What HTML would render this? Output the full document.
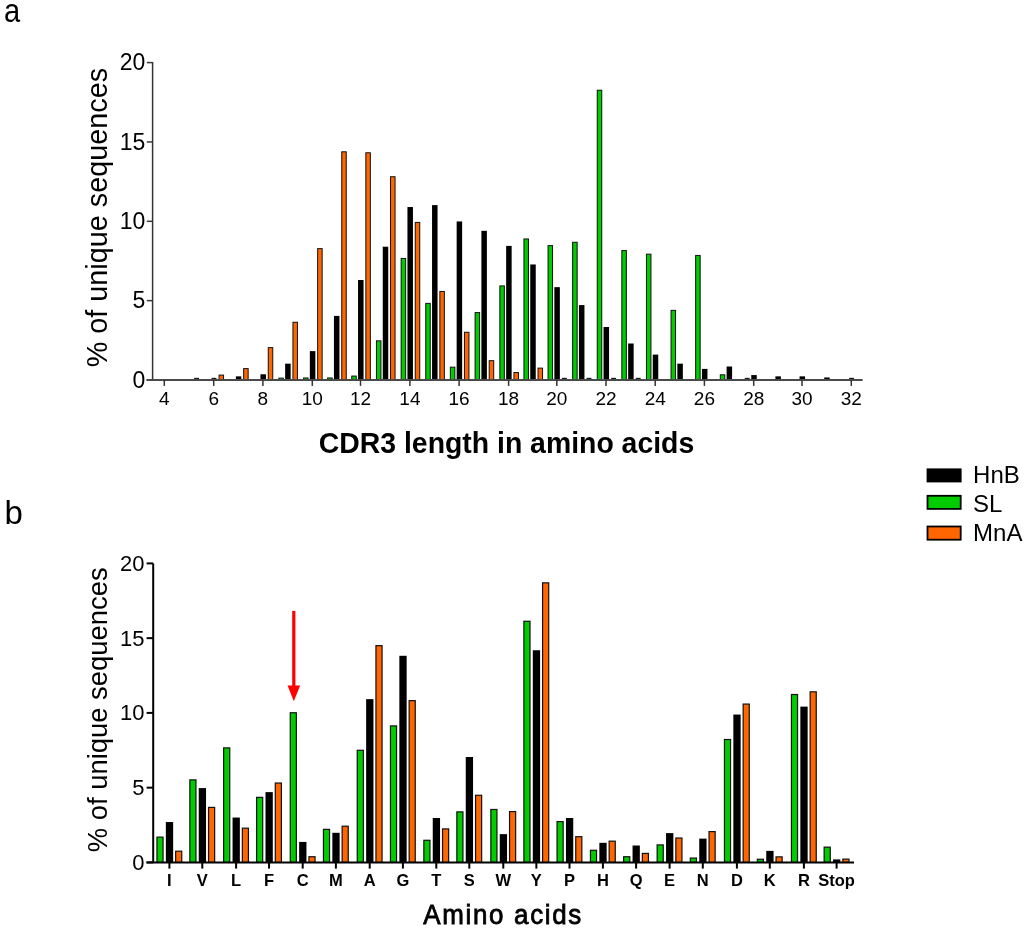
<!DOCTYPE html>
<html><head><meta charset="utf-8"><style>
html,body{margin:0;padding:0;background:#fff;}
body{width:1024px;height:930px;overflow:hidden;font-family:"Liberation Sans",sans-serif;}
svg{display:block;}
</style></head><body>
<div style="will-change:transform;width:1024px;height:930px">
<svg width="1024" height="930" viewBox="0 0 1024 930">
<rect width="1024" height="930" fill="#fff"/>
<rect x="194.15" y="377.83" width="4.9" height="2.17" fill="#1a1a1a"/>
<rect x="211.55" y="377.83" width="4.9" height="2.17" fill="#1a1a1a"/>
<rect x="219.05" y="375.1" width="4.5" height="4.9" fill="#ff6600" stroke="#111" stroke-width="1.0"/>
<rect x="235.85" y="376.35" width="5.5" height="3.65" fill="#000"/>
<rect x="243.65" y="368.6" width="4.5" height="11.4" fill="#ff6600" stroke="#111" stroke-width="1.0"/>
<rect x="260.45" y="374.29" width="5.5" height="5.71" fill="#000"/>
<rect x="268.25" y="347.65" width="4.5" height="32.35" fill="#ff6600" stroke="#111" stroke-width="1.0"/>
<rect x="278.85" y="378.12" width="4.5" height="1.88" fill="#00cc00" stroke="#111" stroke-width="1.0"/>
<rect x="285.15" y="363.65" width="5.5" height="16.35" fill="#000"/>
<rect x="292.95" y="322.26" width="4.5" height="57.74" fill="#ff6600" stroke="#111" stroke-width="1.0"/>
<rect x="303.55" y="377.96" width="4.5" height="2.04" fill="#00cc00" stroke="#111" stroke-width="1.0"/>
<rect x="309.85" y="351.12" width="5.5" height="28.88" fill="#000"/>
<rect x="317.65" y="248.62" width="4.5" height="131.38" fill="#ff6600" stroke="#111" stroke-width="1.0"/>
<rect x="327.65" y="377.96" width="4.5" height="2.04" fill="#00cc00" stroke="#111" stroke-width="1.0"/>
<rect x="333.95" y="315.89" width="5.5" height="64.11" fill="#000"/>
<rect x="341.75" y="151.81" width="4.5" height="228.19" fill="#ff6600" stroke="#111" stroke-width="1.0"/>
<rect x="351.75" y="376.06" width="4.5" height="3.94" fill="#00cc00" stroke="#111" stroke-width="1.0"/>
<rect x="358.05" y="280.02" width="5.5" height="99.98" fill="#000"/>
<rect x="365.85" y="152.77" width="4.5" height="227.23" fill="#ff6600" stroke="#111" stroke-width="1.0"/>
<rect x="376.45" y="340.82" width="4.5" height="39.17" fill="#00cc00" stroke="#111" stroke-width="1.0"/>
<rect x="382.75" y="246.69" width="5.5" height="133.31" fill="#000"/>
<rect x="390.55" y="176.73" width="4.5" height="203.27" fill="#ff6600" stroke="#111" stroke-width="1.0"/>
<rect x="401.15" y="258.46" width="4.5" height="121.54" fill="#00cc00" stroke="#111" stroke-width="1.0"/>
<rect x="407.45" y="207.02" width="5.5" height="172.98" fill="#000"/>
<rect x="415.25" y="222.43" width="4.5" height="157.57" fill="#ff6600" stroke="#111" stroke-width="1.0"/>
<rect x="425.75" y="303.37" width="4.5" height="76.63" fill="#00cc00" stroke="#111" stroke-width="1.0"/>
<rect x="432.05" y="205.11" width="5.5" height="174.89" fill="#000"/>
<rect x="439.85" y="291.47" width="4.5" height="88.53" fill="#ff6600" stroke="#111" stroke-width="1.0"/>
<rect x="450.35" y="367.17" width="4.5" height="12.83" fill="#00cc00" stroke="#111" stroke-width="1.0"/>
<rect x="456.65" y="221.46" width="5.5" height="158.54" fill="#000"/>
<rect x="464.45" y="332.26" width="4.5" height="47.74" fill="#ff6600" stroke="#111" stroke-width="1.0"/>
<rect x="475.1" y="312.58" width="4.5" height="67.42" fill="#00cc00" stroke="#111" stroke-width="1.0"/>
<rect x="481.4" y="230.82" width="5.5" height="149.18" fill="#000"/>
<rect x="489.2" y="360.66" width="4.5" height="19.34" fill="#ff6600" stroke="#111" stroke-width="1.0"/>
<rect x="499.85" y="285.91" width="4.5" height="94.09" fill="#00cc00" stroke="#111" stroke-width="1.0"/>
<rect x="506.15" y="245.9" width="5.5" height="134.1" fill="#000"/>
<rect x="513.95" y="372.56" width="4.5" height="7.43" fill="#ff6600" stroke="#111" stroke-width="1.0"/>
<rect x="523.95" y="238.94" width="4.5" height="141.06" fill="#00cc00" stroke="#111" stroke-width="1.0"/>
<rect x="530.25" y="264.47" width="5.5" height="115.53" fill="#000"/>
<rect x="538.05" y="368.12" width="4.5" height="11.88" fill="#ff6600" stroke="#111" stroke-width="1.0"/>
<rect x="548.05" y="245.61" width="4.5" height="134.39" fill="#00cc00" stroke="#111" stroke-width="1.0"/>
<rect x="554.35" y="287.16" width="5.5" height="92.84" fill="#000"/>
<rect x="561.95" y="377.83" width="4.9" height="2.17" fill="#1a1a1a"/>
<rect x="572.65" y="242.27" width="4.5" height="137.73" fill="#00cc00" stroke="#111" stroke-width="1.0"/>
<rect x="578.95" y="305.09" width="5.5" height="74.91" fill="#000"/>
<rect x="586.55" y="377.83" width="4.9" height="2.17" fill="#1a1a1a"/>
<rect x="597.25" y="90.24" width="4.5" height="289.76" fill="#00cc00" stroke="#111" stroke-width="1.0"/>
<rect x="603.55" y="326.99" width="5.5" height="53.01" fill="#000"/>
<rect x="611.15" y="377.83" width="4.9" height="2.17" fill="#1a1a1a"/>
<rect x="621.85" y="250.52" width="4.5" height="129.48" fill="#00cc00" stroke="#111" stroke-width="1.0"/>
<rect x="628.15" y="343.5" width="5.5" height="36.5" fill="#000"/>
<rect x="635.75" y="377.83" width="4.9" height="2.17" fill="#1a1a1a"/>
<rect x="646.45" y="254.17" width="4.5" height="125.83" fill="#00cc00" stroke="#111" stroke-width="1.0"/>
<rect x="652.75" y="354.61" width="5.5" height="25.39" fill="#000"/>
<rect x="671.05" y="310.35" width="4.5" height="69.65" fill="#00cc00" stroke="#111" stroke-width="1.0"/>
<rect x="677.35" y="363.65" width="5.5" height="16.35" fill="#000"/>
<rect x="695.65" y="255.44" width="4.5" height="124.56" fill="#00cc00" stroke="#111" stroke-width="1.0"/>
<rect x="701.95" y="368.89" width="5.5" height="11.11" fill="#000"/>
<rect x="720.3" y="374.79" width="4.5" height="5.21" fill="#00cc00" stroke="#111" stroke-width="1.0"/>
<rect x="726.6" y="366.51" width="5.5" height="13.49" fill="#000"/>
<rect x="744.75" y="377.83" width="4.9" height="2.17" fill="#1a1a1a"/>
<rect x="751.25" y="375.08" width="5.5" height="4.92" fill="#000"/>
<rect x="775.4" y="376.35" width="5.5" height="3.65" fill="#000"/>
<rect x="799.55" y="376.35" width="5.5" height="3.65" fill="#000"/>
<rect x="824.2" y="377.46" width="5.5" height="2.54" fill="#000"/>
<rect x="849.15" y="377.83" width="4.9" height="2.17" fill="#1a1a1a"/>
<path d="M152.6 61.9V380" stroke="#333" stroke-width="1.5" fill="none"/>
<path d="M146.4 380H862.6" stroke="#4a4a4a" stroke-width="1.8" fill="none"/>
<text x="145.3" y="387.6" text-anchor="end" font-size="23" font-family="Liberation Sans, sans-serif">0</text>
<path d="M146.8 300.65H152.6" stroke="#3a3a3a" stroke-width="1.5"/>
<text x="145.3" y="308.25" text-anchor="end" font-size="23" font-family="Liberation Sans, sans-serif">5</text>
<path d="M146.8 221.3H152.6" stroke="#3a3a3a" stroke-width="1.5"/>
<text x="145.3" y="228.9" text-anchor="end" font-size="23" font-family="Liberation Sans, sans-serif">10</text>
<path d="M146.8 141.95H152.6" stroke="#3a3a3a" stroke-width="1.5"/>
<text x="145.3" y="149.55" text-anchor="end" font-size="23" font-family="Liberation Sans, sans-serif">15</text>
<path d="M146.8 62.6H152.6" stroke="#3a3a3a" stroke-width="1.5"/>
<text x="145.3" y="70.2" text-anchor="end" font-size="23" font-family="Liberation Sans, sans-serif">20</text>
<path d="M164.3 380V385.9" stroke="#333" stroke-width="1.5"/>
<text x="164.3" y="404.6" text-anchor="middle" font-size="19" font-family="Liberation Sans, sans-serif">4</text>
<path d="M213.7 380V385.9" stroke="#333" stroke-width="1.5"/>
<text x="213.7" y="404.6" text-anchor="middle" font-size="19" font-family="Liberation Sans, sans-serif">6</text>
<path d="M262.9 380V385.9" stroke="#333" stroke-width="1.5"/>
<text x="262.9" y="404.6" text-anchor="middle" font-size="19" font-family="Liberation Sans, sans-serif">8</text>
<path d="M312.3 380V385.9" stroke="#333" stroke-width="1.5"/>
<text x="312.3" y="404.6" text-anchor="middle" font-size="19" font-family="Liberation Sans, sans-serif">10</text>
<path d="M360.5 380V385.9" stroke="#333" stroke-width="1.5"/>
<text x="360.5" y="404.6" text-anchor="middle" font-size="19" font-family="Liberation Sans, sans-serif">12</text>
<path d="M409.9 380V385.9" stroke="#333" stroke-width="1.5"/>
<text x="409.9" y="404.6" text-anchor="middle" font-size="19" font-family="Liberation Sans, sans-serif">14</text>
<path d="M459.1 380V385.9" stroke="#333" stroke-width="1.5"/>
<text x="459.1" y="404.6" text-anchor="middle" font-size="19" font-family="Liberation Sans, sans-serif">16</text>
<path d="M508.6 380V385.9" stroke="#333" stroke-width="1.5"/>
<text x="508.6" y="404.6" text-anchor="middle" font-size="19" font-family="Liberation Sans, sans-serif">18</text>
<path d="M556.8 380V385.9" stroke="#333" stroke-width="1.5"/>
<text x="556.8" y="404.6" text-anchor="middle" font-size="19" font-family="Liberation Sans, sans-serif">20</text>
<path d="M606 380V385.9" stroke="#333" stroke-width="1.5"/>
<text x="606" y="404.6" text-anchor="middle" font-size="19" font-family="Liberation Sans, sans-serif">22</text>
<path d="M655.2 380V385.9" stroke="#333" stroke-width="1.5"/>
<text x="655.2" y="404.6" text-anchor="middle" font-size="19" font-family="Liberation Sans, sans-serif">24</text>
<path d="M704.4 380V385.9" stroke="#333" stroke-width="1.5"/>
<text x="704.4" y="404.6" text-anchor="middle" font-size="19" font-family="Liberation Sans, sans-serif">26</text>
<path d="M753.7 380V385.9" stroke="#333" stroke-width="1.5"/>
<text x="753.7" y="404.6" text-anchor="middle" font-size="19" font-family="Liberation Sans, sans-serif">28</text>
<path d="M802 380V385.9" stroke="#333" stroke-width="1.5"/>
<text x="802" y="404.6" text-anchor="middle" font-size="19" font-family="Liberation Sans, sans-serif">30</text>
<path d="M851.3 380V385.9" stroke="#333" stroke-width="1.5"/>
<text x="851.3" y="404.6" text-anchor="middle" font-size="19" font-family="Liberation Sans, sans-serif">32</text>
<rect x="156.95" y="837.14" width="6.1" height="25.26" fill="#00cc00" stroke="#111" stroke-width="1.2"/>
<rect x="165.85" y="822.03" width="7.3" height="40.37" fill="#000"/>
<rect x="175.65" y="851.19" width="6.1" height="11.21" fill="#ff6600" stroke="#111" stroke-width="1.2"/>
<rect x="189.85" y="779.88" width="6.1" height="82.52" fill="#00cc00" stroke="#111" stroke-width="1.2"/>
<rect x="198.75" y="788.1" width="7.3" height="74.3" fill="#000"/>
<rect x="208.55" y="807.39" width="6.1" height="55.01" fill="#ff6600" stroke="#111" stroke-width="1.2"/>
<rect x="223.65" y="747.88" width="6.1" height="114.52" fill="#00cc00" stroke="#111" stroke-width="1.2"/>
<rect x="232.55" y="817.55" width="7.3" height="44.85" fill="#000"/>
<rect x="242.35" y="828.17" width="6.1" height="34.23" fill="#ff6600" stroke="#111" stroke-width="1.2"/>
<rect x="256.6" y="797.37" width="6.1" height="65.03" fill="#00cc00" stroke="#111" stroke-width="1.2"/>
<rect x="265.5" y="792.13" width="7.3" height="70.27" fill="#000"/>
<rect x="275.3" y="783.02" width="6.1" height="79.38" fill="#ff6600" stroke="#111" stroke-width="1.2"/>
<rect x="290.25" y="712.75" width="6.1" height="149.65" fill="#00cc00" stroke="#111" stroke-width="1.2"/>
<rect x="299.15" y="841.92" width="7.3" height="20.48" fill="#000"/>
<rect x="308.95" y="856.72" width="6.1" height="5.68" fill="#ff6600" stroke="#111" stroke-width="1.2"/>
<rect x="323.45" y="829.36" width="6.1" height="33.04" fill="#00cc00" stroke="#111" stroke-width="1.2"/>
<rect x="332.35" y="832.8" width="7.3" height="29.6" fill="#000"/>
<rect x="342.15" y="826.22" width="6.1" height="36.18" fill="#ff6600" stroke="#111" stroke-width="1.2"/>
<rect x="357.25" y="750.28" width="6.1" height="112.12" fill="#00cc00" stroke="#111" stroke-width="1.2"/>
<rect x="366.15" y="699.15" width="7.3" height="163.25" fill="#000"/>
<rect x="375.95" y="645.63" width="6.1" height="216.77" fill="#ff6600" stroke="#111" stroke-width="1.2"/>
<rect x="390.45" y="725.91" width="6.1" height="136.49" fill="#00cc00" stroke="#111" stroke-width="1.2"/>
<rect x="399.35" y="655.79" width="7.3" height="206.61" fill="#000"/>
<rect x="409.15" y="700.64" width="6.1" height="161.76" fill="#ff6600" stroke="#111" stroke-width="1.2"/>
<rect x="423.85" y="840.28" width="6.1" height="22.12" fill="#00cc00" stroke="#111" stroke-width="1.2"/>
<rect x="432.75" y="818" width="7.3" height="44.4" fill="#000"/>
<rect x="442.55" y="828.91" width="6.1" height="33.49" fill="#ff6600" stroke="#111" stroke-width="1.2"/>
<rect x="456.85" y="811.87" width="6.1" height="50.53" fill="#00cc00" stroke="#111" stroke-width="1.2"/>
<rect x="465.75" y="757" width="7.3" height="105.4" fill="#000"/>
<rect x="475.55" y="795.28" width="6.1" height="67.12" fill="#ff6600" stroke="#111" stroke-width="1.2"/>
<rect x="490.85" y="809.48" width="6.1" height="52.92" fill="#00cc00" stroke="#111" stroke-width="1.2"/>
<rect x="499.75" y="834.14" width="7.3" height="28.26" fill="#000"/>
<rect x="509.55" y="811.57" width="6.1" height="50.83" fill="#ff6600" stroke="#111" stroke-width="1.2"/>
<rect x="523.9" y="621.26" width="6.1" height="241.14" fill="#00cc00" stroke="#111" stroke-width="1.2"/>
<rect x="532.8" y="650.26" width="7.3" height="212.14" fill="#000"/>
<rect x="542.6" y="582.84" width="6.1" height="279.56" fill="#ff6600" stroke="#111" stroke-width="1.2"/>
<rect x="557.05" y="821.59" width="6.1" height="40.81" fill="#00cc00" stroke="#111" stroke-width="1.2"/>
<rect x="565.95" y="818" width="7.3" height="44.4" fill="#000"/>
<rect x="575.75" y="836.69" width="6.1" height="25.71" fill="#ff6600" stroke="#111" stroke-width="1.2"/>
<rect x="590.45" y="850.29" width="6.1" height="12.11" fill="#00cc00" stroke="#111" stroke-width="1.2"/>
<rect x="599.35" y="842.82" width="7.3" height="19.58" fill="#000"/>
<rect x="609.15" y="841.17" width="6.1" height="21.23" fill="#ff6600" stroke="#111" stroke-width="1.2"/>
<rect x="623.65" y="856.72" width="6.1" height="5.68" fill="#00cc00" stroke="#111" stroke-width="1.2"/>
<rect x="632.55" y="845.51" width="7.3" height="16.89" fill="#000"/>
<rect x="642.35" y="853.43" width="6.1" height="8.97" fill="#ff6600" stroke="#111" stroke-width="1.2"/>
<rect x="657.15" y="844.91" width="6.1" height="17.49" fill="#00cc00" stroke="#111" stroke-width="1.2"/>
<rect x="666.05" y="833.1" width="7.3" height="29.3" fill="#000"/>
<rect x="675.85" y="838.03" width="6.1" height="24.37" fill="#ff6600" stroke="#111" stroke-width="1.2"/>
<rect x="690.35" y="858.07" width="6.1" height="4.33" fill="#00cc00" stroke="#111" stroke-width="1.2"/>
<rect x="699.25" y="838.63" width="7.3" height="23.77" fill="#000"/>
<rect x="709.05" y="831.61" width="6.1" height="30.79" fill="#ff6600" stroke="#111" stroke-width="1.2"/>
<rect x="724.45" y="739.51" width="6.1" height="122.89" fill="#00cc00" stroke="#111" stroke-width="1.2"/>
<rect x="733.35" y="714.54" width="7.3" height="147.86" fill="#000"/>
<rect x="743.15" y="704.08" width="6.1" height="158.32" fill="#ff6600" stroke="#111" stroke-width="1.2"/>
<rect x="757.35" y="859.26" width="6.1" height="3.14" fill="#00cc00" stroke="#111" stroke-width="1.2"/>
<rect x="766.25" y="850.89" width="7.3" height="11.51" fill="#000"/>
<rect x="776.05" y="856.87" width="6.1" height="5.53" fill="#ff6600" stroke="#111" stroke-width="1.2"/>
<rect x="791.45" y="694.51" width="6.1" height="167.89" fill="#00cc00" stroke="#111" stroke-width="1.2"/>
<rect x="800.35" y="706.62" width="7.3" height="155.78" fill="#000"/>
<rect x="810.15" y="691.82" width="6.1" height="170.58" fill="#ff6600" stroke="#111" stroke-width="1.2"/>
<rect x="824.15" y="847.15" width="6.1" height="15.25" fill="#00cc00" stroke="#111" stroke-width="1.2"/>
<rect x="833.05" y="859.41" width="7.3" height="2.99" fill="#000"/>
<rect x="842.85" y="859.11" width="6.1" height="3.29" fill="#ff6600" stroke="#111" stroke-width="1.2"/>
<path d="M153.2 563.4V862.4M146.4 862.4H854" stroke="#000" stroke-width="2" fill="none"/>
<path d="M146.6 862.4H153.2" stroke="#000" stroke-width="2"/>
<text x="144.5" y="869.8" text-anchor="end" font-size="22" font-family="Liberation Sans, sans-serif">0</text>
<path d="M146.6 787.65H153.2" stroke="#000" stroke-width="2"/>
<text x="144.5" y="795.05" text-anchor="end" font-size="22" font-family="Liberation Sans, sans-serif">5</text>
<path d="M146.6 712.9H153.2" stroke="#000" stroke-width="2"/>
<text x="144.5" y="720.3" text-anchor="end" font-size="22" font-family="Liberation Sans, sans-serif">10</text>
<path d="M146.6 638.15H153.2" stroke="#000" stroke-width="2"/>
<text x="144.5" y="645.55" text-anchor="end" font-size="22" font-family="Liberation Sans, sans-serif">15</text>
<path d="M146.6 563.4H153.2" stroke="#000" stroke-width="2"/>
<text x="144.5" y="570.8" text-anchor="end" font-size="22" font-family="Liberation Sans, sans-serif">20</text>
<path d="M169.4 862.4V868.6" stroke="#000" stroke-width="2"/>
<text x="169.4" y="885.9" text-anchor="middle" font-size="16.5" font-weight="bold" font-family="Liberation Sans, sans-serif">I</text>
<path d="M202.3 862.4V868.6" stroke="#000" stroke-width="2"/>
<text x="202.3" y="885.9" text-anchor="middle" font-size="16.5" font-weight="bold" font-family="Liberation Sans, sans-serif">V</text>
<path d="M236.1 862.4V868.6" stroke="#000" stroke-width="2"/>
<text x="236.1" y="885.9" text-anchor="middle" font-size="16.5" font-weight="bold" font-family="Liberation Sans, sans-serif">L</text>
<path d="M269.05 862.4V868.6" stroke="#000" stroke-width="2"/>
<text x="269.05" y="885.9" text-anchor="middle" font-size="16.5" font-weight="bold" font-family="Liberation Sans, sans-serif">F</text>
<path d="M302.7 862.4V868.6" stroke="#000" stroke-width="2"/>
<text x="302.7" y="885.9" text-anchor="middle" font-size="16.5" font-weight="bold" font-family="Liberation Sans, sans-serif">C</text>
<path d="M335.9 862.4V868.6" stroke="#000" stroke-width="2"/>
<text x="335.9" y="885.9" text-anchor="middle" font-size="16.5" font-weight="bold" font-family="Liberation Sans, sans-serif">M</text>
<path d="M369.7 862.4V868.6" stroke="#000" stroke-width="2"/>
<text x="369.7" y="885.9" text-anchor="middle" font-size="16.5" font-weight="bold" font-family="Liberation Sans, sans-serif">A</text>
<path d="M402.9 862.4V868.6" stroke="#000" stroke-width="2"/>
<text x="402.9" y="885.9" text-anchor="middle" font-size="16.5" font-weight="bold" font-family="Liberation Sans, sans-serif">G</text>
<path d="M436.3 862.4V868.6" stroke="#000" stroke-width="2"/>
<text x="436.3" y="885.9" text-anchor="middle" font-size="16.5" font-weight="bold" font-family="Liberation Sans, sans-serif">T</text>
<path d="M469.3 862.4V868.6" stroke="#000" stroke-width="2"/>
<text x="469.3" y="885.9" text-anchor="middle" font-size="16.5" font-weight="bold" font-family="Liberation Sans, sans-serif">S</text>
<path d="M503.3 862.4V868.6" stroke="#000" stroke-width="2"/>
<text x="503.3" y="885.9" text-anchor="middle" font-size="16.5" font-weight="bold" font-family="Liberation Sans, sans-serif">W</text>
<path d="M536.35 862.4V868.6" stroke="#000" stroke-width="2"/>
<text x="536.35" y="885.9" text-anchor="middle" font-size="16.5" font-weight="bold" font-family="Liberation Sans, sans-serif">Y</text>
<path d="M569.5 862.4V868.6" stroke="#000" stroke-width="2"/>
<text x="569.5" y="885.9" text-anchor="middle" font-size="16.5" font-weight="bold" font-family="Liberation Sans, sans-serif">P</text>
<path d="M602.9 862.4V868.6" stroke="#000" stroke-width="2"/>
<text x="602.9" y="885.9" text-anchor="middle" font-size="16.5" font-weight="bold" font-family="Liberation Sans, sans-serif">H</text>
<path d="M636.1 862.4V868.6" stroke="#000" stroke-width="2"/>
<text x="636.1" y="885.9" text-anchor="middle" font-size="16.5" font-weight="bold" font-family="Liberation Sans, sans-serif">Q</text>
<path d="M669.6 862.4V868.6" stroke="#000" stroke-width="2"/>
<text x="669.6" y="885.9" text-anchor="middle" font-size="16.5" font-weight="bold" font-family="Liberation Sans, sans-serif">E</text>
<path d="M702.8 862.4V868.6" stroke="#000" stroke-width="2"/>
<text x="702.8" y="885.9" text-anchor="middle" font-size="16.5" font-weight="bold" font-family="Liberation Sans, sans-serif">N</text>
<path d="M736.9 862.4V868.6" stroke="#000" stroke-width="2"/>
<text x="736.9" y="885.9" text-anchor="middle" font-size="16.5" font-weight="bold" font-family="Liberation Sans, sans-serif">D</text>
<path d="M769.8 862.4V868.6" stroke="#000" stroke-width="2"/>
<text x="769.8" y="885.9" text-anchor="middle" font-size="16.5" font-weight="bold" font-family="Liberation Sans, sans-serif">K</text>
<path d="M803.9 862.4V868.6" stroke="#000" stroke-width="2"/>
<text x="803.9" y="885.9" text-anchor="middle" font-size="16.5" font-weight="bold" font-family="Liberation Sans, sans-serif">R</text>
<path d="M836.6 862.4V868.6" stroke="#000" stroke-width="2"/>
<text x="836.6" y="885.9" text-anchor="middle" font-size="16.5" font-weight="bold" font-family="Liberation Sans, sans-serif">Stop</text>
<path d="M293.8 610.9V688" stroke="#ff0000" stroke-width="3.2"/>
<path d="M287.6 685.4H300.2L293.8 701.2Z" fill="#ff0000"/>
<text transform="translate(107,217.6) rotate(-90)" text-anchor="middle" font-size="28.8" font-family="Liberation Sans, sans-serif">% of unique sequences</text>
<text transform="translate(106.9,709.8) rotate(-90)" text-anchor="middle" font-size="27.4" font-family="Liberation Sans, sans-serif">% of unique sequences</text>
<text transform="translate(506.5,452.8) scale(1,1.035)" text-anchor="middle" font-size="28.4" font-weight="bold" font-family="Liberation Sans, sans-serif">CDR3 length in amino acids</text>
<text transform="translate(423.2,924) scale(0.94,1)" font-size="27.6" letter-spacing="1.8" font-family="Liberation Sans, sans-serif" stroke="#000" stroke-width="0.8">Amino acids</text>
<text transform="translate(4.0,21.9) scale(0.91,1.01)" font-size="32" font-family="Liberation Sans, sans-serif">a</text>
<text x="4.5" y="524.3" font-size="33" font-family="Liberation Sans, sans-serif">b</text>
<rect x="927.5" y="469.3" width="33.2" height="12.2" fill="#000000" stroke="#000" stroke-width="1.8"/>
<text x="973.1" y="483.1" font-size="24" font-family="Liberation Sans, sans-serif">HnB</text>
<rect x="927.5" y="495.8" width="33.2" height="13.1" fill="#00cc00" stroke="#000" stroke-width="1.8"/>
<text x="973.1" y="512.1" font-size="24" font-family="Liberation Sans, sans-serif">SL</text>
<rect x="927.5" y="526.5" width="33.2" height="13.2" fill="#ff6600" stroke="#000" stroke-width="1.8"/>
<text x="973.1" y="541" font-size="24" font-family="Liberation Sans, sans-serif">MnA</text>
</svg>
</div>
</body></html>
